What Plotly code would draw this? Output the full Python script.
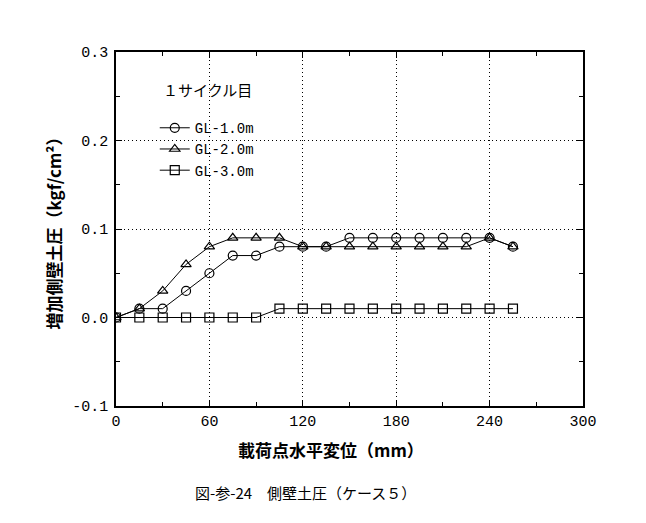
import plotly.graph_objects as go

disp = [0, 15, 30, 45, 60, 75, 90, 105, 120, 135, 150, 165, 180, 195, 210, 225, 240, 255]
gl10 = [0, 0.01, 0.01, 0.03, 0.05, 0.07, 0.07, 0.08, 0.08, 0.08, 0.09, 0.09, 0.09, 0.09, 0.09, 0.09, 0.09, 0.08]
gl20 = [0, 0.01, 0.03, 0.06, 0.08, 0.09, 0.09, 0.09, 0.08, 0.08, 0.08, 0.08, 0.08, 0.08, 0.08, 0.08, 0.09, 0.08]
gl30 = [0, 0, 0, 0, 0, 0, 0, 0.01, 0.01, 0.01, 0.01, 0.01, 0.01, 0.01, 0.01, 0.01, 0.01, 0.01]
names = ["GL-1.0m", "GL-2.0m", "GL-3.0m"]
symbols = ["circle-open", "triangle-up-open", "square-open"]
x_ticks = [0, 60, 120, 180, 240, 300]
y_ticks = [-0.1, 0.0, 0.1, 0.2, 0.3]
y_tick_text = ["-0.1", "0.0", "0.1", "0.2", "0.3"]

mono = "Liberation Mono"
jp = "Noto Sans CJK JP"

fig = go.Figure()
for name, ys, sym in zip(names, [gl10, gl20, gl30], symbols):
    fig.add_trace(go.Scatter(
        x=disp, y=ys, name=name, mode="lines+markers",
        line=dict(color="black", width=1),
        marker=dict(symbol=sym, size=9, color="black", line=dict(width=1.2, color="black")),
    ))

axis_common = dict(
    showline=True, linecolor="black", linewidth=1.5, mirror="ticks",
    ticks="inside", ticklen=6, tickcolor="black",
    showgrid=True, gridcolor="black", gridwidth=1, griddash="1px,3px",
    zeroline=False,
    tickfont=dict(family=mono, size=15, color="black"),
)

fig.update_xaxes(
    range=[0, 300], tickvals=x_ticks,
    minor=dict(dtick=30, ticks="inside", ticklen=4, tickcolor="black", showgrid=False),
    **axis_common,
)
fig.update_yaxes(
    range=[-0.1, 0.3], tickvals=y_ticks, ticktext=y_tick_text,
    minor=dict(dtick=0.05, ticks="inside", ticklen=4, tickcolor="black", showgrid=False),
    ticklabelstandoff=3,
    title=dict(text="増加側壁土圧（kgf/cm²）", font=dict(family=jp, size=17, color="black", weight="bold"), standoff=6),
    **axis_common,
)

fig.update_layout(
    width=646, height=523,
    margin=dict(l=108, r=71, t=44, b=125),
    plot_bgcolor="white", paper_bgcolor="white",
    showlegend=True,
    legend=dict(
        x=0.083, y=0.83, xanchor="left", yanchor="top",
        bgcolor="rgba(0,0,0,0)", borderwidth=0,
        font=dict(family=mono, size=14, color="black"),
        tracegroupgap=0,
    ),
    annotations=[
        dict(text="１サイクル目", xref="paper", yref="paper", x=0.195, y=0.893,
             xanchor="center", yanchor="middle", showarrow=False,
             font=dict(family=jp, size=15, color="black")),
        dict(text="載荷点水平変位（mm）", xref="paper", yref="paper", x=0.46, y=-0.123,
             xanchor="center", yanchor="middle", showarrow=False,
             font=dict(family=jp, size=17, color="black", weight="bold")),
        dict(text="図-参-24　側壁土圧（ケース５）", xref="paper", yref="paper",
             x=0.405, y=-0.243, xanchor="center", yanchor="middle", showarrow=False,
             font=dict(family=jp, size=15, color="black")),
    ],
)

fig.write_html("out.html")
